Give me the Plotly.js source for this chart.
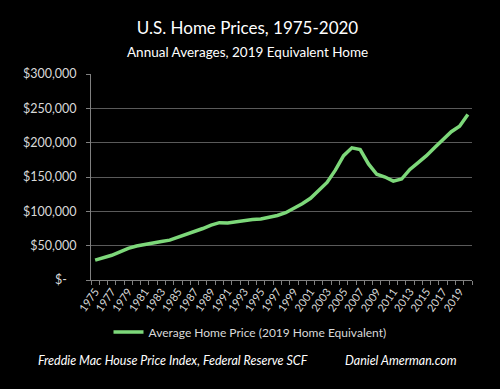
<!DOCTYPE html>
<html>
<head>
<meta charset="utf-8">
<script src="https://cdn.plot.ly/plotly-3.0.1.min.js"></script>
<style>html,body{margin:0;padding:0;background:#000;}#chart{width:500px;height:389px;}</style>
</head>
<body>
<div id="chart"></div>
<script>
const years = [1975,1976,1977,1978,1979,1980,1981,1982,1983,1984,1985,1986,1987,1988,1989,1990,1991,1992,1993,1994,1995,1996,1997,1998,1999,2000,2001,2002,2003,2004,2005,2006,2007,2008,2009,2010,2011,2012,2013,2014,2015,2016,2017,2018,2019,2020];
const prices = [29000,32000,36000,41000,46000,49500,52000,54000,56000,58000,62000,66000,70000,75000,80000,83500,83000,85000,86000,88000,89000,91000,94000,98000,104000,111000,119000,130000,142000,160000,181000,192500,190000,169000,154000,150000,144000,147000,161000,171000,181000,193000,205000,216000,224000,241000];
const yTickVals = [0,50000,100000,150000,200000,250000,300000];
const yTickText = ["$-\u00a0\u00a0\u00a0","$50,000","$100,000","$150,000","$200,000","$250,000","$300,000"];
const xTickVals = [1975,1977,1979,1981,1983,1985,1987,1989,1991,1993,1995,1997,1999,2001,2003,2005,2007,2009,2011,2013,2015,2017,2019];
const seriesName = "Average Home Price (2019 Home Equivalent)";
const titleText = "U.S. Home Prices, 1975-2020";
const subtitleText = "Annual Averages, 2019 Equivalent Home";
const sourceText = "Freddie Mac House Price Index, Federal Reserve SCF";
const authorText = "Daniel Amerman.com";

const FONT = "Lato, 'Open Sans', sans-serif";
const trace = {
  x: years, y: prices, type: "scatter", mode: "lines", name: seriesName,
  line: {color: "#7dd87a", width: 3.5}, showlegend: true
};
const layout = {
  width: 500, height: 389,
  paper_bgcolor: "#000", plot_bgcolor: "#000",
  margin: {l: 91, r: 28, t: 74, b: 109},
  font: {family: FONT, color: "#d9d9d9", size: 12},
  title: {text: titleText, font: {family: FONT, size: 17, color: "#ffffff"}, x: 0.495, xref: "container", xanchor: "center", y: 1 - 28/389, yref: "container", yanchor: "middle"},
  xaxis: {
    range: [1974.5, 2020.5], tickmode: "array", tickvals: xTickVals, ticktext: xTickVals.map(String),
    tickangle: -55, tickfont: {size: 11, color: "#d9d9d9"},
    ticks: "", showgrid: false, zeroline: false,
    showline: true, linecolor: "#808080", linewidth: 1,
    minor: {tick0: 1974.5, dtick: 1, ticks: "outside", ticklen: 4, tickcolor: "#808080", showgrid: false},
    fixedrange: true
  },
  yaxis: {
    range: [0, 300000], tickmode: "array", tickvals: yTickVals, ticktext: yTickText,
    tickfont: {size: 12.5, color: "#d9d9d9"},
    ticks: "outside", ticklen: 4, tickcolor: "#808080",
    showgrid: true, gridcolor: "#5a5a5a", gridwidth: 1, zeroline: false,
    showline: true, linecolor: "#808080", linewidth: 1, ticklabelstandoff: 7,
    fixedrange: true
  },
  showlegend: true,
  legend: {orientation: "h", x: 0.5, xref: "container", xanchor: "center", y: 1 - 332/389, yref: "container", yanchor: "middle",
    font: {family: FONT, size: 12, color: "#d9d9d9"}, bgcolor: "rgba(0,0,0,0)", itemwidth: 30},
  annotations: [
    {text: subtitleText, xref: "paper", yref: "paper", x: (247.5-91)/381, y: (280-52)/206, xanchor: "center", yanchor: "middle", showarrow: false, font: {family: FONT, size: 13.5, color: "#ffffff"}},
    {text: "<i>" + sourceText + "</i>", xref: "paper", yref: "paper", x: (172.5-91)/381, y: (280-360.5)/206, xanchor: "center", yanchor: "middle", showarrow: false, font: {family: FONT, size: 12.5, color: "#ffffff"}},
    {text: "<i>" + authorText + "</i>", xref: "paper", yref: "paper", x: (400.5-91)/381, y: (280-360.5)/206, xanchor: "center", yanchor: "middle", showarrow: false, font: {family: FONT, size: 12.5, color: "#ffffff"}}
  ]
};
Plotly.newPlot("chart", [trace], layout, {displayModeBar: false, staticPlot: true});
</script>
</body>
</html>
